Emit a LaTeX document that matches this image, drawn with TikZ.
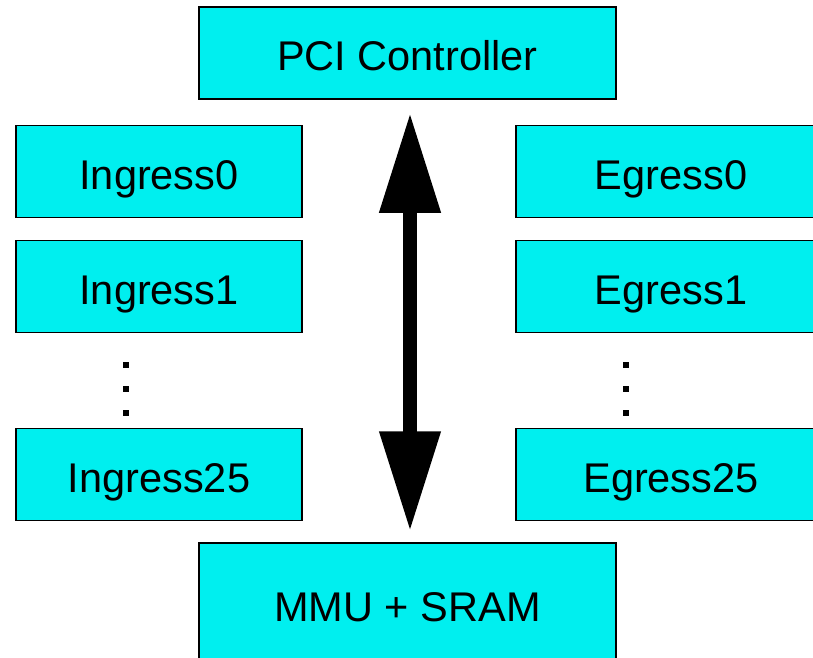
\documentclass[tikz,border=0pt]{standalone}
\usepackage{fontspec}
\setmainfont{Liberation Sans}
\usepackage{tikz}
\usetikzlibrary{arrows.meta,positioning}
\definecolor{BoxCyan}{HTML}{00EFEF}

\begin{document}
\begin{tikzpicture}[
  x=1pt,y=-1pt,
  label text/.style={text height=35pt,text depth=0pt,font=\fontsize{41.5}{48}\selectfont},
  unit/.style={draw,fill=BoxCyan,line width=1.5pt,minimum height=92pt,inner sep=0pt,label text},
  side/.style={unit,minimum width=286pt},
  wide/.style={unit,minimum width=417pt},
  bus/.style={{Triangle[width=58pt,length=100pt]}-{Triangle[width=58pt,length=100pt]},line width=14pt}
]
\useasboundingbox (0,0) rectangle (813,657);
\clip (0,0) rectangle (813,657);
\node[wide] (pci) at (407.5,53) {PCI Controller};
\node[side] (in0) at (159,171.5) {Ingress0};
\node[side] (in1) at (159,286.5) {Ingress1};
\node[side] (in25) at (159,474.5) {Ingress25};
\node[side,minimum width=314pt] (eg0) at (673,171.5) {};
\node[side,minimum width=314pt] (eg1) at (673,286.5) {};
\node[side,minimum width=314pt] (eg25) at (673,474.5) {};
\node[label text] at (671,171.5) {Egress0};
\node[label text] at (671,286.5) {Egress1};
\node[label text] at (671,474.5) {Egress25};
\node[wide,minimum height=122pt] (mmu) at (407.5,604) {MMU + SRAM};
% vertical dots between the lanes
\foreach \y in {365,389,413} {
  \fill (123,\y-3) rectangle (129,\y+3);
  \fill (623,\y-3) rectangle (629,\y+3);
}
\draw[bus,shorten <=13pt,shorten >=11pt] ([xshift=2.5pt]pci.south) -- ([xshift=2.5pt]mmu.north);
\end{tikzpicture}
\end{document}
